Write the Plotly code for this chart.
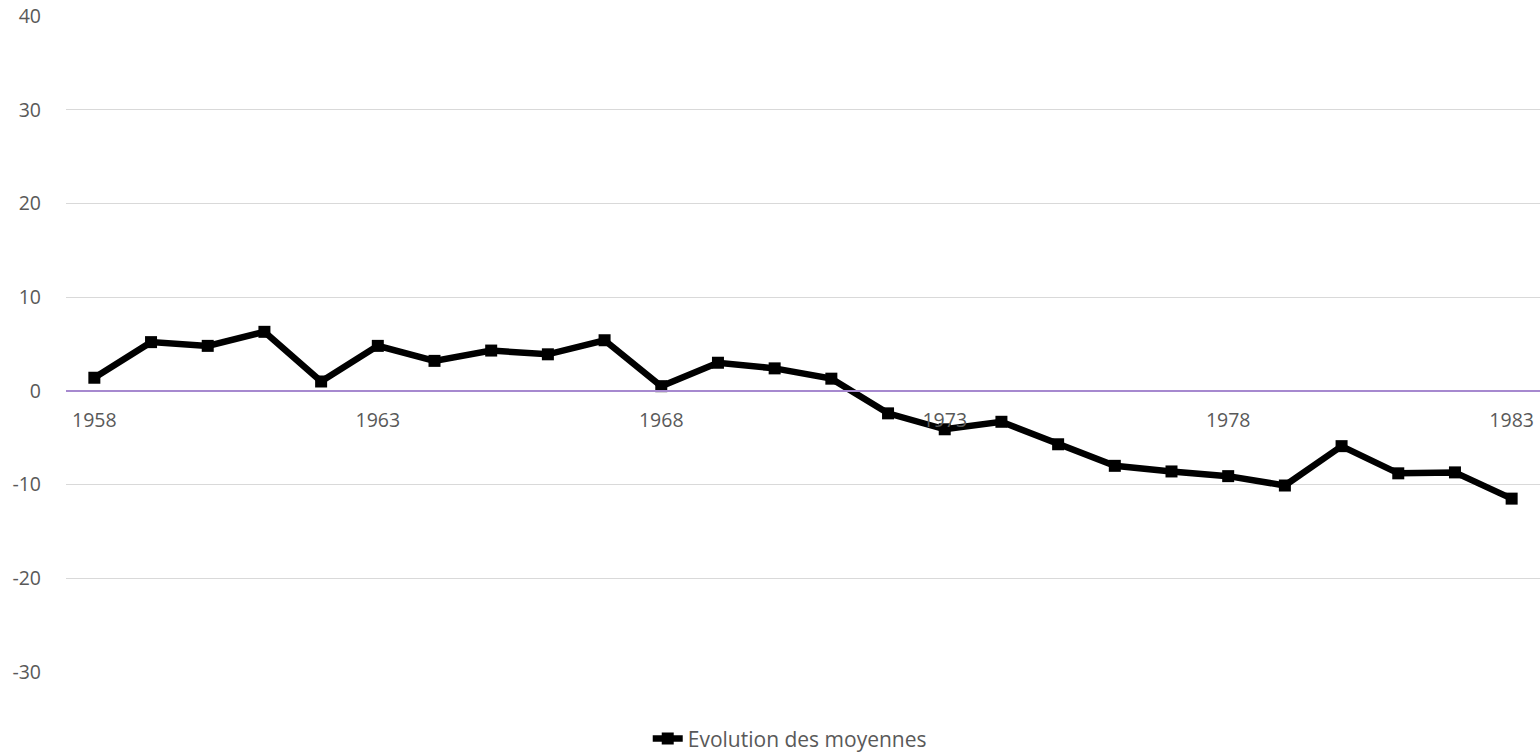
import plotly.graph_objects as go

# Evolution of annual averages, 1958-1983
years = list(range(1958, 1984))
moyennes = [1.4, 5.2, 4.8, 6.3, 1.0, 4.8, 3.2, 4.3, 3.9, 5.4,
            0.5, 3.0, 2.4, 1.3, -2.4, -4.1, -3.3, -5.7, -8.0, -8.6,
            -9.1, -10.1, -5.9, -8.8, -8.7, -11.5]
year_ticks = [1958, 1963, 1968, 1973, 1978, 1983]
y_ticks = [-30, -20, -10, 0, 10, 20, 30, 40]

font_color = "#595959"
font_family = "'Open Sans', sans-serif"

fig = go.Figure()
fig.add_trace(go.Scatter(
    x=years, y=moyennes, mode="lines+markers",
    name="Evolution des moyennes",
    line=dict(color="black", width=6.5),
    marker=dict(symbol="square", size=12, color="black"),
))

fig.update_layout(
    width=1540, height=755,
    margin=dict(l=66, r=0, t=16, b=83, autoexpand=False),
    paper_bgcolor="white", plot_bgcolor="white",
    font=dict(family=font_family, size=19.5, color=font_color),
    showlegend=True,
    legend=dict(orientation="h", x=0.491, xanchor="center",
                y=-0.102, yanchor="middle",
                font=dict(size=21, color=font_color),
                itemwidth=30),
    xaxis=dict(
        range=[1957.5, 1983.5],
        tickmode="array", tickvals=year_ticks,
        ticktext=[str(v) for v in year_ticks],
        anchor="free", position=3 / 7,
        showline=True, linecolor="#A689CF", linewidth=1.5,
        showgrid=False, zeroline=False,
        ticks="", ticklabelstandoff=12,
    ),
    yaxis=dict(
        range=[-30, 40],
        tickmode="array", tickvals=y_ticks,
        ticktext=[str(v) for v in y_ticks],
        showgrid=True, gridcolor="#D9D9D9", gridwidth=1,
        zeroline=False, showline=False,
        ticks="", ticklabelstandoff=24,
    ),
)

fig.write_html("out.html")
